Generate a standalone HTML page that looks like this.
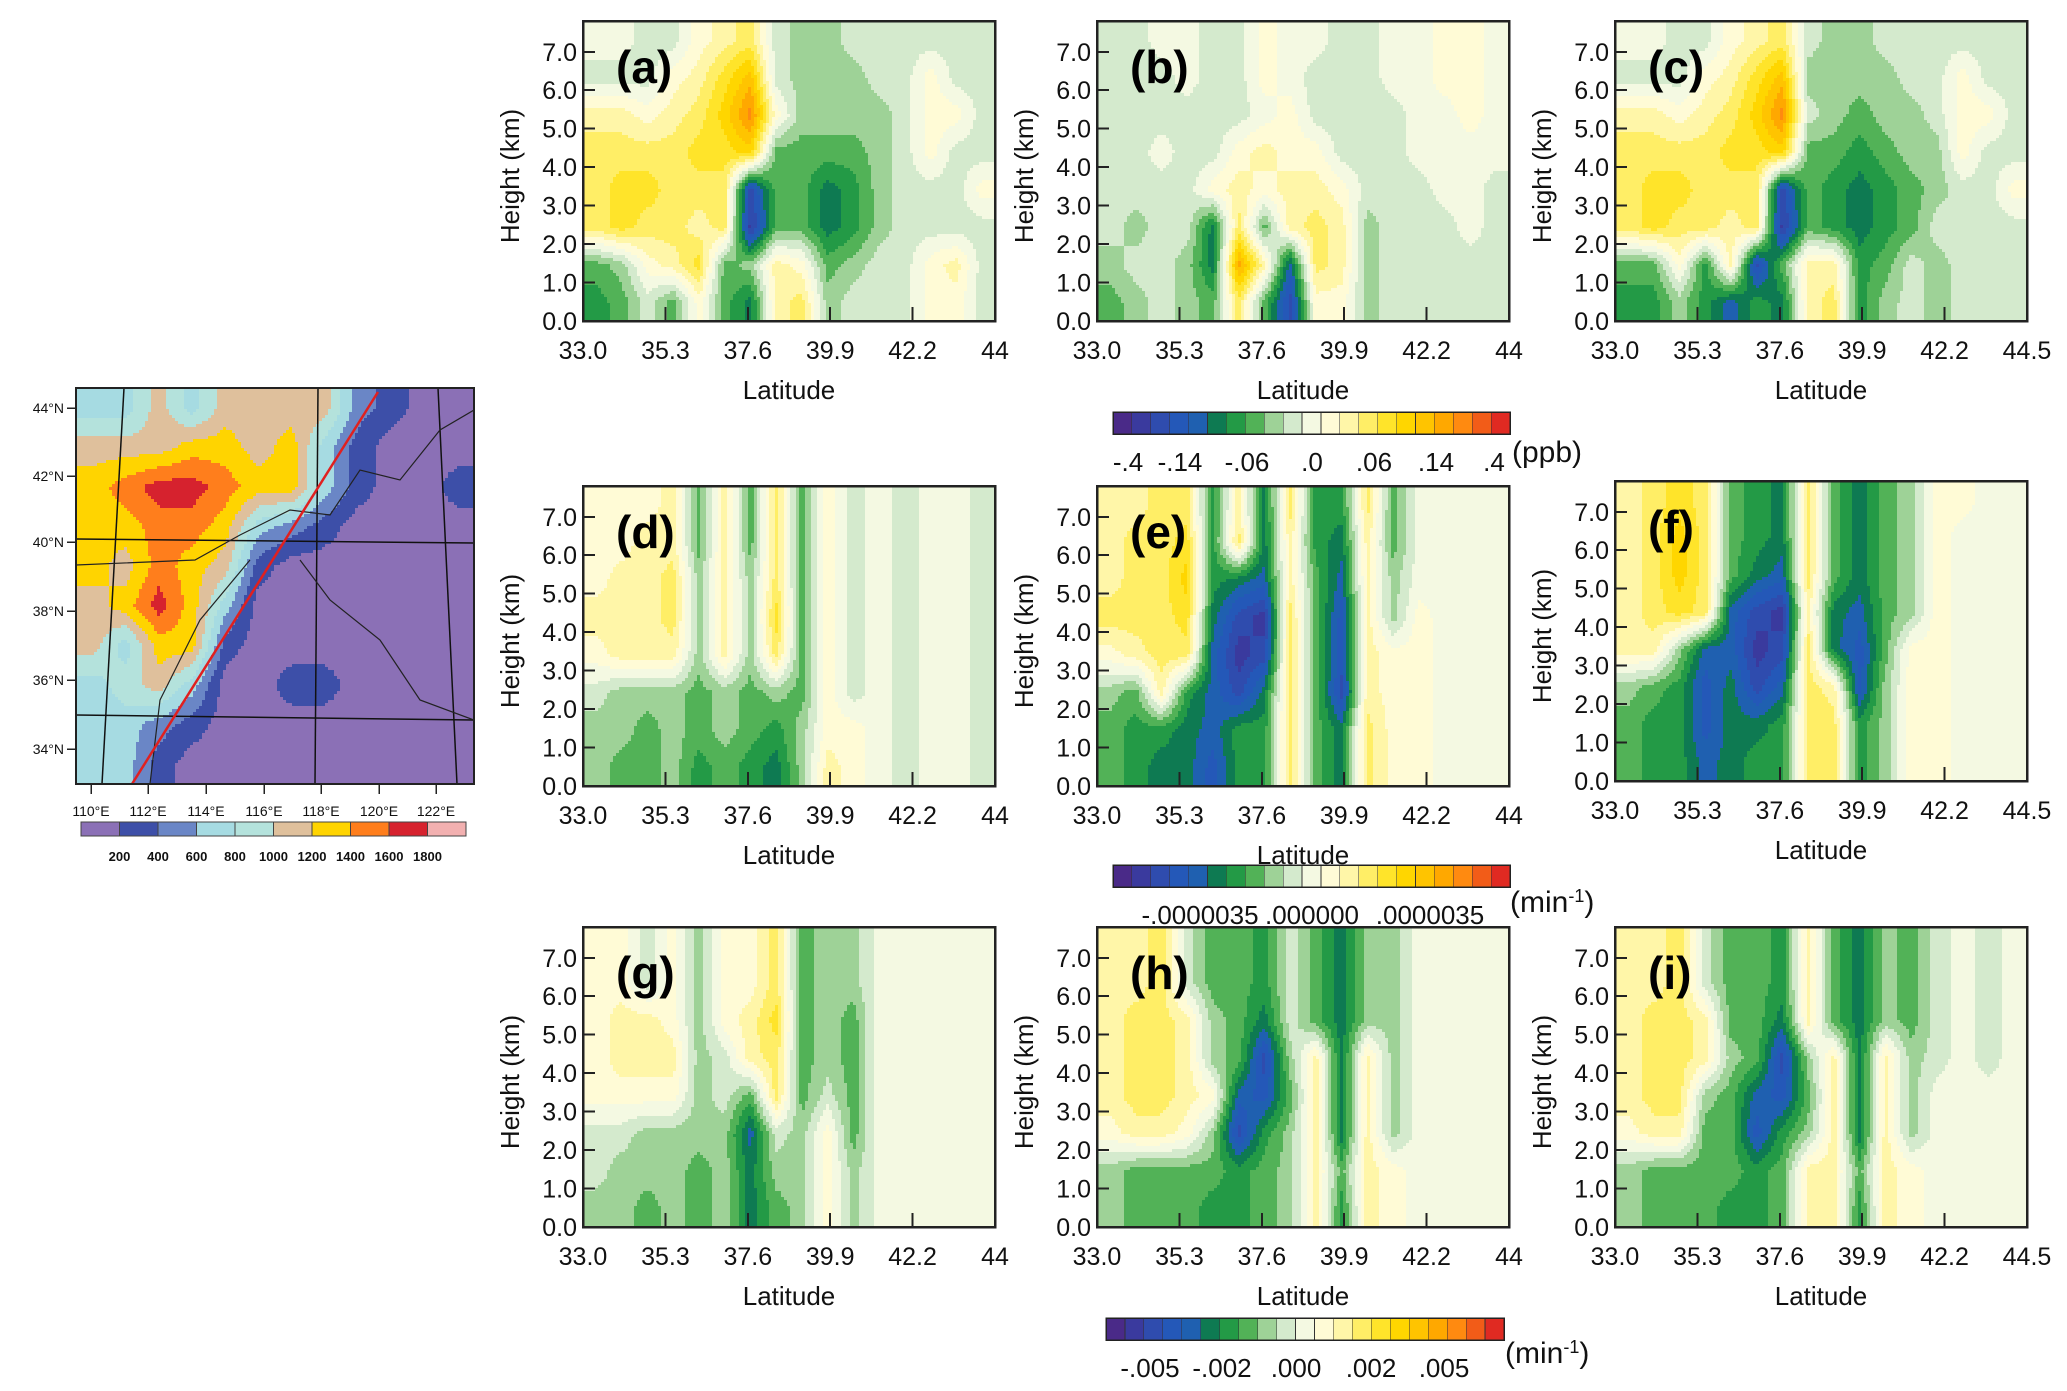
<!DOCTYPE html>
<html><head><meta charset="utf-8"><style>
html,body{margin:0;padding:0;background:#fff}
svg text{font-family:"Liberation Sans",sans-serif}
</style></head><body>
<svg id="fig" width="2067" height="1386" viewBox="0 0 2067 1386" xmlns="http://www.w3.org/2000/svg" shape-rendering="crispEdges">
</svg>
<script>
// ---------- chart data ----------
const latTicks = [33.0, 35.3, 37.6, 39.9, 42.2];
const heightTicks = [0, 1, 2, 3, 4, 5, 6, 7];
const panelLabels = ["(a)","(b)","(c)","(d)","(e)","(f)","(g)","(h)","(i)"];
const levelColors = ["#4a2a88","#3a3a9e","#2f4cae","#2458b8","#1f60b0","#0e7a52","#239a46","#52b257","#9ed297","#d4eacd","#f4f9e2","#fffbd6","#fff6a8","#ffee66","#ffe42a","#ffd600","#ffc400","#ffa800","#ff8a10","#f25c18","#e02a22"];
const ppbLabels = ["-.4","-.14","-.06",".0",".06",".14",".4"];
const rateLabels = ["-.0000035",".000000",".0000035"];
const rate2Labels = ["-.005","-.002",".000",".002",".005"];
const gridA = [
[0,0,-1,-1,1,2,3,-1,-2,-2,-1,-1,-1,-1,-1,-1],
[-1,-1,-1,1,2,4,6,-1,-2,-2,-2,-1,-1,1,-1,-1],
[2,2,1,2,3,5,8,1,-2,-2,-2,-2,-1,1,1,-1],
[3,3,3,3,4,4,5,-3,-3,-3,-3,-2,-1,1,-1,-1],
[3,4,4,3,3,3,-8,-3,-3,-5,-4,-2,-1,-1,-1,1],
[3,4,3,3,2,3,-9,-3,-3,-5,-4,-2,-1,-1,-1,-1],
[-3,-2,1,2,4,-3,-2,2,1,-3,-2,-1,-1,1,2,-1],
[-4,-3,-1,-3,1,-3,-5,2,3,-2,-1,-1,-1,1,1,-1]];
const gridB = [
[-1,-1,0,0,-1,-1,1,0,0,-1,-1,0,0,1,1,0],
[-1,-1,-1,0,-1,-1,1,0,-1,-1,-1,0,0,1,1,0],
[-1,-1,-1,-1,-1,-1,0,1,-1,-1,-1,-1,0,0,1,0],
[-1,-1,0,-1,-1,1,2,1,1,-1,-1,-1,0,0,0,0],
[-1,-1,-1,-1,1,2,1,2,2,1,-1,-1,-1,0,0,-1],
[-1,-2,-1,-1,-5,3,-3,2,3,2,-2,-1,-1,-1,0,-1],
[-2,-1,-1,-2,-5,7,2,-6,3,2,-2,-1,-1,-1,-1,-1],
[-3,-2,-1,-2,-3,3,-3,-8,1,1,-2,-1,-1,-1,-1,-1]];
const gridC = [
[0,0,-1,-1,1,2,3,-1,-2,-2,-1,-1,-1,-1,-1,-1],
[-1,-1,-1,1,2,4,6,-2,-2,-2,-2,-1,-1,1,-1,-1],
[2,2,1,2,3,5,8,-1,-2,-3,-2,-2,-1,1,1,-1],
[3,3,3,3,4,4,5,-3,-3,-4,-3,-2,-2,1,-1,-1],
[3,4,4,3,3,3,-8,-3,-4,-5,-4,-3,-2,-1,-1,1],
[3,4,3,3,2,3,-9,-3,-4,-5,-4,-3,-1,-1,-1,-1],
[-3,-3,1,-4,2,-8,-3,2,2,-4,-3,-1,-2,-1,-1,-1],
[-4,-4,-2,-4,-6,-4,-5,2,3,-4,-2,-1,-2,-1,-1,-1]];
const gridD = [
[1,1,1,2,-3,2,-3,3,-3,1,-1,0,-1,0,0,-1],
[1,1,2,2,-3,2,-3,3,-3,1,-1,0,-1,0,0,-1],
[1,2,2,3,-2,2,-2,3,-3,1,-1,0,-1,0,0,-1],
[2,2,2,3,-2,2,-2,4,-3,1,-1,0,-1,0,0,-1],
[1,2,2,2,-2,2,-2,3,-3,1,-1,0,-1,0,0,-1],
[-1,-2,-2,-2,-3,-2,-3,-2,-3,1,-1,0,-1,0,0,-1],
[-2,-2,-3,-2,-3,-2,-3,-4,-2,1,1,0,-1,0,0,-1],
[-2,-3,-3,-2,-4,-3,-4,-5,-2,2,1,0,-1,0,0,-1]];
const gridE = [
[2,2,3,3,-4,2,-5,3,-4,-4,3,-3,0,0,0,0],
[2,3,3,4,-4,3,-5,2,-4,-5,2,-3,0,0,0,0],
[2,3,3,5,-4,-5,-6,2,-3,-6,2,-2,0,0,0,0],
[3,3,3,4,-5,-8,-9,3,-3,-7,2,-2,1,0,0,0],
[1,2,3,3,-6,-9,-8,3,-3,-7,2,1,1,0,0,0],
[-2,-3,2,-4,-6,-8,-5,3,-3,-8,2,1,1,0,0,0],
[-3,-4,-4,-5,-6,-4,-4,3,-3,-5,3,1,1,0,0,0],
[-3,-4,-5,-5,-7,-4,-4,3,-3,-5,3,1,1,0,0,0]];
const gridF = [
[2,3,4,3,-3,-4,-5,3,-3,-5,-3,-2,1,1,0,0],
[2,3,5,3,-3,-4,-5,3,-3,-5,-3,-2,1,0,0,0],
[2,3,5,3,-3,-5,-6,3,-3,-5,-3,-2,1,0,0,0],
[2,3,4,3,-6,-8,-9,2,-5,-6,-3,-2,1,0,0,0],
[2,2,-2,-6,-6,-9,-8,3,-5,-7,-3,1,1,0,0,0],
[-2,-3,-4,-7,-5,-8,-6,3,2,-7,-2,1,1,0,0,0],
[-3,-4,-4,-7,-5,-5,-4,3,3,-4,-2,1,1,0,0,0],
[-3,-4,-4,-6,-5,-4,-4,3,3,-4,-2,1,1,0,0,0]];
const gridG = [
[1,1,-1,1,-2,1,1,3,-3,-2,-2,0,0,0,0,0],
[1,1,-1,1,-2,1,1,3,-3,-2,-2,0,0,0,0,0],
[1,2,2,1,-2,1,2,4,-3,-2,-3,0,0,0,0,0],
[1,2,2,2,-2,-1,2,3,-3,-2,-3,0,0,0,0,0],
[1,1,1,1,-2,-1,-3,3,-3,-1,-3,0,0,0,0,0],
[-1,-1,-2,-2,-2,-2,-6,-1,-2,1,-3,0,0,0,0,0],
[-1,-2,-2,-2,-3,-2,-5,-2,-2,1,-2,0,0,0,0,0],
[-2,-2,-3,-2,-3,-2,-5,-3,-2,1,-2,0,0,0,0,0]];
const gridH = [
[2,2,3,-1,-3,-3,-4,-1,-3,-5,-2,-2,0,0,0,0],
[2,2,3,-1,-3,-3,-4,-1,-3,-5,-2,-2,0,0,0,0],
[2,3,3,2,-2,-3,-5,-1,-3,-5,-2,-2,0,0,0,0],
[2,3,3,2,-2,-3,-8,-2,2,-5,2,-2,0,0,0,0],
[2,3,3,2,1,-6,-7,-3,2,-5,2,-2,0,0,0,0],
[1,2,2,1,-2,-8,-4,-2,2,-5,2,-2,0,0,0,0],
[-2,-3,-3,-3,-3,-4,-3,-2,2,-3,2,1,0,0,0,0],
[-2,-3,-3,-3,-4,-4,-3,-2,2,-4,2,1,0,0,0,0]];
const gridI = [
[2,2,3,-1,-3,-3,-4,2,-3,-5,-2,-3,-1,0,-1,0],
[2,2,3,-1,-3,-3,-4,2,-3,-5,-2,-3,-1,0,-1,0],
[2,3,3,2,-3,-3,-5,2,-3,-5,-2,-3,-1,0,-1,0],
[2,3,3,2,-2,-3,-8,-2,2,-5,2,-2,-1,0,-1,0],
[2,3,3,-2,-3,-6,-7,-3,2,-5,2,-2,0,0,0,0],
[1,2,2,-3,-3,-7,-4,-2,2,-5,2,-2,0,0,0,0],
[-2,-3,-3,-3,-3,-4,-3,2,2,-3,2,1,0,0,0,0],
[-2,-3,-3,-3,-4,-4,-3,2,2,-4,2,1,0,0,0,0]];
const grids = [gridA,gridB,gridC,gridD,gridE,gridF,gridG,gridH,gridI];
const rightLabels = ["44","44","44.5","44","44","44.5","44","44","44.5"];
// terrain (map) data: level index 0..9
const terrainColors = ["#8b70b6","#3d4fa8","#6a86c6","#a6dbe2","#b4e2dc","#dfc09c","#ffd400","#ff7e1c","#d6222e","#f2b0b0"];
const terrainLabels = ["200","400","600","800","1000","1200","1400","1600","1800"];
const terrain = [
[3,3,5,3,5,5,5,5,2,1,0,0],
[5,5,5,6,6,5,6,3,1,0,0,0],
[6,7,8,8,7,6,6,3,1,0,0,1],
[6,6,7,7,6,3,2,1,0,0,0,0],
[6,5,7,6,5,1,0,0,0,0,0,0],
[5,6,8,6,3,0,0,0,0,0,0,0],
[5,3,6,6,1,0,0,0,0,0,0,0],
[3,4,5,3,0,0,1,1,0,0,0,0],
[3,3,2,1,0,0,0,0,0,0,0,0],
[3,3,1,0,0,0,0,0,0,0,0,0]];
const lonLabels = ["110°E","112°E","114°E","116°E","118°E","120°E","122°E"];
const latLabels = ["44°N","42°N","40°N","38°N","36°N","34°N"];
</script>
<script>
const NS="http://www.w3.org/2000/svg";
const svg=document.getElementById('fig');
function mk(tag,attrs,parent){const e=document.createElementNS(NS,tag);for(const k in attrs)e.setAttribute(k,attrs[k]);(parent||svg).appendChild(e);return e;}
function txt(s,attrs,parent){const e=mk('text',attrs,parent);e.textContent=s;return e;}
function sample(grid,fr,fc){
  const nr=grid.length,nc=grid[0].length;
  fr=Math.max(0,Math.min(nr-1,fr)); fc=Math.max(0,Math.min(nc-1,fc));
  const r0=Math.floor(fr),c0=Math.floor(fc),r1=Math.min(nr-1,r0+1),c1=Math.min(nc-1,c0+1);
  const dr=fr-r0,dc=fc-c0;
  return grid[r0][c0]*(1-dr)*(1-dc)+grid[r0][c1]*(1-dr)*dc+grid[r1][c0]*dr*(1-dc)+grid[r1][c1]*dr*dc;
}
function rasterize(grid,x0,y0,w,h,colors,offset,maxIdx,parent,cellName){
  const nr=grid.length,nc=grid[0].length,step=3;
  for(let py=0;py<h;py+=step){
    const fr=(py+step/2)/h*nr-0.5;
    const rh=Math.min(step,h-py);
    let runStart=0,runColor=null;
    for(let px=0;;px+=step){
      const done=px>=w;
      let col=null;
      if(!done){
        const fc=(px+step/2)/w*nc-0.5;
        let idx=Math.round(sample(grid,fr,fc))+offset;
        idx=Math.max(0,Math.min(maxIdx,idx));
        col=colors[idx];
      }
      if(col!==runColor){
        if(runColor!==null){
          const rc=mk('rect',{x:x0+runStart,y:y0+py,width:Math.min(px,w)-runStart,height:rh+0.6,fill:runColor},parent);
          
          
        }
        runStart=px;runColor=col;
      }
      if(done)break;
    }
  }
}
const colsX=[583,1097,1615];
const rowsY=[[21,21,21],[486,486,481],[927,927,927]];
const PW=412, PH=300, LATMIN=33, LATMAX=44.5, HMAX=7.8;
for(let p=0;p<9;p++){
  const ci=p%3, ri=Math.floor(p/3);
  const x0=colsX[ci], y0=rowsY[ri][ci];
  const xs=v=>x0+(v-LATMIN)/(LATMAX-LATMIN)*PW;
  const ys=v=>y0+PH-(v/HMAX)*PH;
  const g=mk('g',{});
  
  
  const hg=mk('g',{},g);
  rasterize(grids[p],xs(LATMIN),ys(HMAX),xs(LATMAX)-xs(LATMIN),ys(0)-ys(HMAX),levelColors,10,20,hg,'contour-cell');
  const fr=mk('rect',{x:x0,y:y0,width:PW,height:PH,fill:'none',stroke:'#222','stroke-width':2.5},g);
  
  
  heightTicks.forEach(t=>{
    const y=ys(t);
    mk('line',{x1:x0,x2:x0+12,y1:y,y2:y,stroke:'#222','stroke-width':2},g);
    const tl=txt(t.toFixed(1),{x:x0-6,y:y+9,'font-size':25,'text-anchor':'end',fill:'#111'},g);
    
    
  });
  latTicks.forEach((t,i)=>{
    const x=xs(t);
    if(i>0)mk('line',{x1:x,x2:x,y1:y0+PH,y2:y0+PH-14,stroke:'#222','stroke-width':2},g);
    const tl=txt(t.toFixed(1),{x:x,y:y0+PH+38,'font-size':25,'text-anchor':'middle',fill:'#111'},g);
    
    
  });
  const rl=txt(rightLabels[p],{x:x0+PW,y:y0+PH+38,'font-size':25,'text-anchor':'middle',fill:'#111'},g);
  
  
  const xt=txt('Latitude',{x:x0+PW/2,y:y0+PH+78,'font-size':26,'text-anchor':'middle',fill:'#111'},g);
  
  
  const yt=txt('Height (km)',{x:0,y:0,'font-size':26,'text-anchor':'middle',fill:'#111',transform:`translate(${x0-64},${y0+PH/2+5}) rotate(-90)`},g);
  
  
  const pl=txt(panelLabels[p],{x:x0+33,y:y0+62,'font-size':46,'font-weight':'bold',fill:'#000'},g);
  
  
}
function colorbar(x,y,w,h,labels,lx,unitX,unitY,unit,name){
  const g=mk('g',{});
  
  
  const n=levelColors.length, bw=w/n;
  levelColors.forEach((c,i)=>{mk('rect',{x:x+i*bw,y:y,width:bw+0.3,height:h,fill:c,stroke:'#333','stroke-width':0.6},g);});
  mk('rect',{x:x,y:y,width:w,height:h,fill:'none',stroke:'#222','stroke-width':1.5},g);
  labels.forEach((s,i)=>{const t=txt(s,{x:lx[i],y:y+h+37,'font-size':26,'text-anchor':'middle',fill:'#111'},g);
    
    });
  const u=txt('',{x:unitX,y:unitY,'font-size':30,fill:'#111'},g);
  u.innerHTML=unit;
}
colorbar(1113,412,397,22,ppbLabels,[1128,1180,1247,1312,1374,1436,1494],1512,462,'(ppb)','colorbar-ppb');
colorbar(1113,865,397,22,rateLabels,[1200,1312,1430],1510,912,'(min<tspan baseline-shift="super" font-size="18">-1</tspan>)','colorbar-rate-e');
colorbar(1106,1318,398,22,rate2Labels,[1150,1222,1296,1371,1444],1505,1363,'(min<tspan baseline-shift="super" font-size="18">-1</tspan>)','colorbar-rate-h');
(function(){
  const mx=76,my=388,mw=398,mh=396;
  const g=mk('g',{});
  
  
  const cp=mk('clipPath',{id:'mapclip'},g); mk('rect',{x:mx,y:my,width:mw,height:mh},cp);
  const cg=mk('g',{'clip-path':'url(#mapclip)'},g);
  rasterize(terrain,mx,my,mw,mh,terrainColors,0,9,cg,'terrain-cell');
  [[76,539,474,543],[76,715,474,720]].forEach(l=>mk('line',{x1:l[0],y1:l[1],x2:l[2],y2:l[3],stroke:'#111','stroke-width':1.5,'shape-rendering':'auto'},cg));
  [[124,388,102,784],[318,388,315,784],[438,388,457,784]].forEach(l=>mk('line',{x1:l[0],y1:l[1],x2:l[2],y2:l[3],stroke:'#111','stroke-width':1.5,'shape-rendering':'auto'},cg));
  mk('path',{d:'M76,565 L195,560 L240,535 L290,510 L330,515 L360,470 L400,480 L440,430 L474,410 M300,560 L330,600 L380,640 L420,700 L474,720 M150,784 L160,700 L200,620 L250,560',fill:'none',stroke:'#222','stroke-width':1.2,'shape-rendering':'auto'},cg);
  const rl=mk('line',{x1:132,y1:784,x2:378,y2:392,stroke:'#e02020','stroke-width':2.5,'shape-rendering':'auto'},cg);
  
  
  mk('rect',{x:mx,y:my,width:mw,height:mh,fill:'none',stroke:'#222','stroke-width':2},g);
  const latY=[408,476,542,611,680,749];
  latLabels.forEach((s,i)=>{mk('line',{x1:mx-9,x2:mx,y1:latY[i],y2:latY[i],stroke:'#222','stroke-width':1.5},g);
    const t=txt(s,{x:mx-12,y:latY[i]+5,'font-size':14,'text-anchor':'end',fill:'#111'},g);
    
    });
  const lonX=[91,148,206,264,321,379,436];
  lonLabels.forEach((s,i)=>{mk('line',{x1:lonX[i],x2:lonX[i],y1:784,y2:794,stroke:'#222','stroke-width':1.5},g);
    const t=txt(s,{x:lonX[i],y:816,'font-size':14,'text-anchor':'middle',fill:'#111'},g);
    
    });
  const bx=81,bw=(466-81)/10;
  terrainColors.forEach((c,i)=>mk('rect',{x:bx+i*bw,y:822,width:bw,height:14,fill:c,stroke:'#444','stroke-width':0.8},g));
  terrainLabels.forEach((s,i)=>{const t=txt(s,{x:bx+(i+1)*bw,y:861,'font-size':13,'font-weight':'bold','text-anchor':'middle',fill:'#111'},g);
    
    });
})();
</script>
</body></html>
